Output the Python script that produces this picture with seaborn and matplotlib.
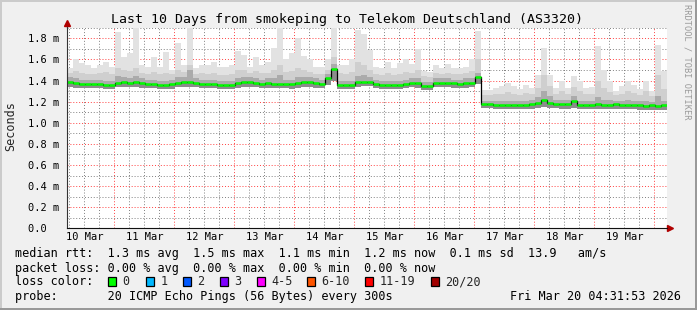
import numpy as np
import pandas as pd
import matplotlib
matplotlib.use('Agg')
import matplotlib.pyplot as plt
import matplotlib.dates as mdates
from matplotlib.ticker import MultipleLocator, FuncFormatter, NullFormatter
from matplotlib.patches import Rectangle
import seaborn as sns

# ---------------- data (milliseconds), one value per 2.4 h step ----------------
median_ms = [1.39,1.38,1.37,1.37,1.37,1.37,1.355,1.36,1.38,1.385,
             1.38,1.385,1.375,1.37,1.37,1.36,1.36,1.365,1.38,1.385,
             1.385,1.38,1.37,1.365,1.37,1.36,1.355,1.36,1.375,1.385,
             1.385,1.38,1.37,1.375,1.37,1.37,1.37,1.365,1.375,1.385,
             1.385,1.375,1.37,1.42,1.51,1.36,1.36,1.36,1.385,1.39,
             1.39,1.365,1.36,1.36,1.36,1.36,1.37,1.38,1.375,1.35,
             1.35,1.38,1.38,1.38,1.375,1.37,1.375,1.38,1.43,1.18,
             1.175,1.17,1.17,1.17,1.17,1.17,1.17,1.175,1.19,1.22,
             1.185,1.18,1.175,1.175,1.21,1.17,1.17,1.17,1.175,1.17,
             1.17,1.175,1.17,1.17,1.17,1.165,1.16,1.165,1.16,1.165]
max_ms = [1.52,1.60,1.57,1.55,1.52,1.55,1.58,1.53,1.86,1.62,
          1.66,1.90,1.55,1.53,1.62,1.53,1.67,1.50,1.76,1.55,
          1.91,1.52,1.55,1.55,1.58,1.53,1.53,1.55,1.68,1.64,
          1.53,1.62,1.55,1.58,1.71,1.90,1.60,1.66,1.80,1.63,
          1.60,1.53,1.53,1.60,1.90,1.55,1.55,1.60,1.88,1.84,
          1.69,1.53,1.52,1.58,1.52,1.57,1.60,1.56,1.70,1.49,
          1.48,1.55,1.52,1.56,1.52,1.52,1.53,1.60,1.87,1.31,
          1.31,1.33,1.35,1.38,1.35,1.32,1.36,1.33,1.45,1.71,
          1.45,1.33,1.40,1.33,1.44,1.40,1.33,1.34,1.73,1.50,
          1.40,1.30,1.35,1.40,1.36,1.32,1.40,1.30,1.74,1.49]
p90_ms = [1.47,1.49,1.47,1.46,1.46,1.47,1.48,1.46,1.52,1.50,
          1.49,1.52,1.47,1.46,1.48,1.46,1.47,1.46,1.50,1.48,
          1.55,1.46,1.47,1.46,1.47,1.45,1.45,1.46,1.50,1.50,
          1.47,1.49,1.47,1.47,1.50,1.55,1.48,1.49,1.52,1.50,
          1.48,1.46,1.46,1.50,1.62,1.47,1.46,1.48,1.58,1.55,
          1.50,1.46,1.45,1.47,1.45,1.46,1.48,1.47,1.50,1.44,
          1.43,1.47,1.46,1.47,1.46,1.46,1.47,1.49,1.60,1.26,
          1.26,1.27,1.27,1.29,1.27,1.26,1.28,1.27,1.33,1.45,
          1.35,1.27,1.30,1.27,1.34,1.30,1.27,1.27,1.40,1.33,
          1.29,1.26,1.27,1.30,1.28,1.26,1.30,1.25,1.45,1.32]
p75_ms = [1.43,1.42,1.41,1.41,1.41,1.41,1.40,1.40,1.44,1.43,
          1.42,1.44,1.42,1.41,1.41,1.40,1.40,1.41,1.43,1.43,
          1.50,1.42,1.41,1.41,1.41,1.40,1.40,1.40,1.42,1.43,
          1.43,1.42,1.41,1.42,1.42,1.45,1.41,1.41,1.43,1.43,
          1.43,1.42,1.41,1.46,1.56,1.40,1.40,1.40,1.44,1.45,
          1.43,1.41,1.40,1.40,1.40,1.40,1.41,1.42,1.42,1.39,
          1.39,1.42,1.42,1.42,1.41,1.41,1.42,1.42,1.47,1.21,
          1.21,1.21,1.21,1.21,1.21,1.21,1.21,1.22,1.24,1.30,
          1.25,1.22,1.22,1.22,1.25,1.21,1.21,1.21,1.24,1.22,
          1.22,1.21,1.21,1.22,1.21,1.21,1.21,1.20,1.25,1.21]
min_ms = [1.34,1.33,1.33,1.33,1.33,1.33,1.32,1.32,1.34,1.34,
          1.34,1.34,1.33,1.33,1.33,1.32,1.32,1.32,1.34,1.34,
          1.34,1.34,1.33,1.33,1.33,1.32,1.32,1.32,1.33,1.34,
          1.34,1.34,1.33,1.33,1.33,1.33,1.33,1.32,1.33,1.34,
          1.34,1.33,1.33,1.36,1.40,1.32,1.32,1.32,1.34,1.35,
          1.35,1.33,1.32,1.32,1.32,1.32,1.33,1.34,1.33,1.31,
          1.31,1.34,1.34,1.34,1.33,1.33,1.33,1.34,1.37,1.14,
          1.14,1.13,1.13,1.13,1.13,1.13,1.13,1.13,1.14,1.15,
          1.14,1.14,1.13,1.13,1.14,1.13,1.13,1.13,1.13,1.13,
          1.13,1.13,1.13,1.13,1.13,1.12,1.12,1.12,1.12,1.12]

title = "Last 10 Days from smokeping to Telekom Deutschland (AS3320)"
ylabel = "Seconds"
stats_lines = [
    "median rtt:  1.3 ms avg  1.5 ms max  1.1 ms min  1.2 ms now  0.1 ms sd  13.9   am/s",
    "packet loss: 0.00 % avg  0.00 % max  0.00 % min  0.00 % now",
    "loss color:",
    "probe:       20 ICMP Echo Pings (56 Bytes) every 300s",
]
loss_labels = ["0", "1", "2", "3", "4-5", "6-10", "11-19", "20/20"]
loss_colors = ["#00ff00", "#00b8ff", "#0059ff", "#7e00ff", "#ff00ff", "#ff5500", "#ff0000", "#a10000"]
stamp = "Fri Mar 20 04:31:53 2026"
watermark = "RRDTOOL / TOBI OETIKER"

# ---------------- layout ----------------
W, H = 697, 310
start = pd.Timestamp("2026-03-10 04:58")
end = pd.Timestamp("2026-03-20 04:58")
n = len(median_ms)
edges = pd.date_range(start, periods=n + 1, freq="144min")

def ext(a):
    a = np.asarray(a, dtype=float)
    return np.append(a, a[-1])

sns.set_theme(style="white")
plt.rcParams["font.family"] = ["DejaVu Sans Mono", "DejaVu Sans"]

fig = plt.figure(figsize=(W / 100, H / 100), dpi=100, facecolor="#f0f0f0")
ax = fig.add_axes([66.7 / W, 1 - 228.3 / H, 600 / W, (228.3 - 27.5) / H])
ax.set_facecolor("white")

# smoke layers
ax.fill_between(edges, ext(p90_ms), ext(max_ms), step="post", color="#e2e2e2", lw=0, zorder=2)
ax.fill_between(edges, ext(p75_ms), ext(p90_ms), step="post", color="#cfcfcf", lw=0, zorder=2)
ax.fill_between(edges, ext(median_ms), ext(p75_ms), step="post", color="#ababab", lw=0, zorder=2)
ax.fill_between(edges, ext(min_ms), ext(median_ms), step="post", color="#8c8c8c", lw=0, zorder=2)

# median: black step + green segments
med_df = pd.DataFrame({"t": edges, "v": ext(median_ms)})
sns.lineplot(data=med_df, x="t", y="v", drawstyle="steps-post", color="black",
             lw=0.9, estimator=None, ax=ax, zorder=3)
ax.hlines(median_ms, edges[:-1], edges[1:], colors="#00ff00", lw=1.8, zorder=4)

ax.set_xlim(start, end)
ax.set_ylim(0, 1.903)
ax.set_xlabel("")
ax.set_ylabel("")

# grid / ticks
ax.xaxis.set_major_locator(mdates.DayLocator())
ax.xaxis.set_minor_locator(mdates.HourLocator(byhour=[0, 6, 12, 18]))
ax.xaxis.set_major_formatter(NullFormatter())

def xfmt(v, pos):
    d = mdates.num2date(v)
    return d.strftime("%d %b") if d.hour == 12 else ""

ax.xaxis.set_minor_formatter(FuncFormatter(xfmt))
ax.yaxis.set_major_locator(MultipleLocator(0.2))
ax.yaxis.set_minor_locator(MultipleLocator(0.1))
ax.yaxis.set_major_formatter(FuncFormatter(lambda v, p: "0.0  " if abs(v) < 1e-9 else f"{v:.1f} m"))

dot = (0, (1, 2))
ax.grid(which="major", axis="both", color=(1, 0.25, 0.25, 0.22), ls=dot, lw=0.7)
ax.grid(which="minor", axis="both", color=(0.5, 0.5, 0.5, 0.18), ls=dot, lw=0.7)
for l in ax.get_xgridlines() + ax.get_ygridlines():
    l.set_zorder(5)

ax.tick_params(axis="x", which="both", length=0, pad=3.0, labelsize=7.5, colors="black")
ax.tick_params(axis="y", which="major", length=2.2, width=0.7, color=(1, 0, 0, 0.35),
               pad=3.5, labelsize=7.5, labelcolor="black", direction="out")
ax.tick_params(axis="y", which="minor", length=2.2, width=0.7, color=(0.5, 0.5, 0.5, 0.35),
               direction="out")

for s in ["top", "right"]:
    ax.spines[s].set_visible(False)
ax.spines["left"].set_color("#333333")
ax.spines["bottom"].set_color("#111111")
ax.spines["left"].set_linewidth(0.8)
ax.spines["bottom"].set_linewidth(0.8)
ax.spines["left"].set_zorder(6)
ax.spines["bottom"].set_zorder(6)

# axis extensions + arrows
ax.plot([0, 0], [1, 1.02], transform=ax.transAxes, color="#333333", lw=0.8, clip_on=False)
ax.plot([1, 1.004], [0, 0], transform=ax.transAxes, color="#111111", lw=0.8, clip_on=False)
ax.plot([0], [1.022], marker="^", ms=4.5, color="#b00000", mec="#b00000",
        transform=ax.transAxes, clip_on=False)
ax.plot([1.006], [0], marker=">", ms=4.5, color="#b00000", mec="#b00000",
        transform=ax.transAxes, clip_on=False)

# ---------------- texts ----------------
def fx(x):
    return x / W

def fy(y):
    return 1 - y / H

fig.text(fx(347), fy(19.3), title, ha="center", va="center", fontsize=9.5, color="black")
fig.text(fx(10.5), fy(126), ylabel, rotation=90, ha="center", va="center", fontsize=8.5)
fig.text(fx(687.5), fy(4), watermark, rotation=270, ha="center", va="top",
         fontsize=6.2, color="#9a9a9a")

rows_y = [254.0, 268.2, 281.7, 296.5]
for txt, yy in zip(stats_lines, rows_y):
    fig.text(fx(15), fy(yy), txt, ha="left", va="center", fontsize=8.5, color="black")
fig.text(fx(681), fy(rows_y[3]), stamp, ha="right", va="center", fontsize=8.5, color="black")

box_left = [108, 145.7, 182.7, 220, 256.7, 306.7, 365, 431]
for bx, lab, col in zip(box_left, loss_labels, loss_colors):
    fig.add_artist(Rectangle((fx(bx), fy(286)), 8.3 / W, 9 / H, transform=fig.transFigure,
                             facecolor=col, edgecolor="black", lw=0.9))
    fig.text(fx(bx + 14.5), fy(rows_y[2]), lab, ha="left", va="center", fontsize=8.5)

# frame (3D look)
fig.add_artist(Rectangle((0, 0), 1, 2 / H, transform=fig.transFigure, color="#999999", lw=0))
fig.add_artist(Rectangle((1 - 2 / W, 0), 2 / W, 1, transform=fig.transFigure, color="#999999", lw=0))
fig.add_artist(Rectangle((0, 1 - 2 / H), 1 - 2 / W, 2 / H, transform=fig.transFigure, color="#cbcbcb", lw=0))
fig.add_artist(Rectangle((0, 2 / H), 2 / W, 1 - 4 / H, transform=fig.transFigure, color="#cbcbcb", lw=0))

fig.savefig("out.png", dpi=100, facecolor=fig.get_facecolor())
